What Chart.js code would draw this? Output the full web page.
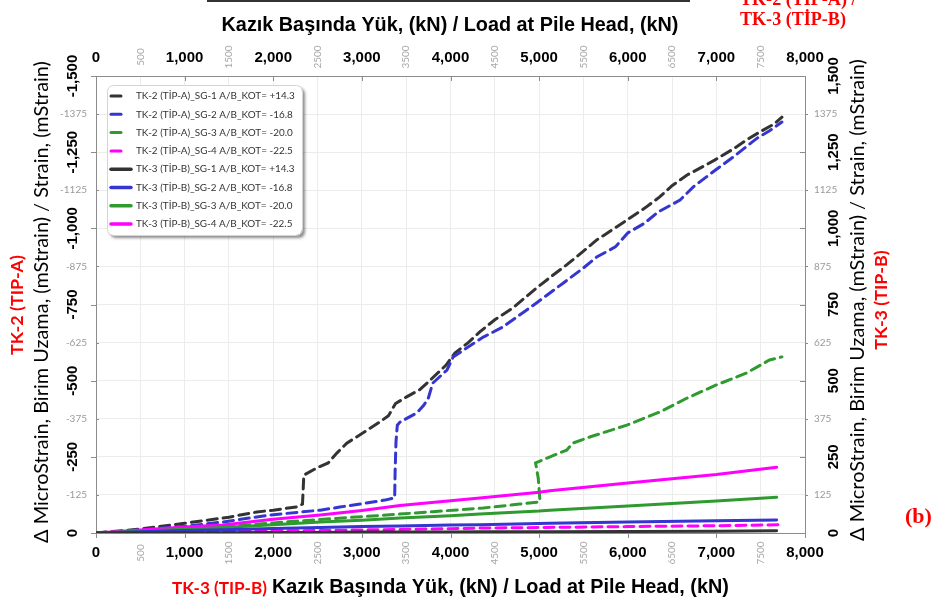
<!DOCTYPE html>
<html>
<head>
<meta charset="utf-8">
<script src="https://cdn.jsdelivr.net/npm/chart.js@4.4.1/dist/chart.umd.min.js"></script>
<style>
  html, body { margin: 0; padding: 0; background: #fff; }
  #wrap { width: 939px; height: 602px; }
</style>
</head>
<body>
<div id="wrap"><canvas id="strainChart"></canvas></div>
<script>
// Datos (carga en kN, deformación en microstrain)
const seriesLabels = [
  'TK-2 (TİP-A)_SG-1 A/B_KOT= +14.3',
  'TK-2 (TİP-A)_SG-2 A/B_KOT= -16.8',
  'TK-2 (TİP-A)_SG-3 A/B_KOT= -20.0',
  'TK-2 (TİP-A)_SG-4 A/B_KOT= -22.5',
  'TK-3 (TİP-B)_SG-1 A/B_KOT= +14.3',
  'TK-3 (TİP-B)_SG-2 A/B_KOT= -16.8',
  'TK-3 (TİP-B)_SG-3 A/B_KOT= -20.0',
  'TK-3 (TİP-B)_SG-4 A/B_KOT= -22.5'
];
const seriesColors = ['#333333', '#3535d0', '#2f9a2f', '#ff00ff'];

// TK-2 (eje superior / izquierdo)
const tk2Sg1Load = [0, 500, 1000, 1500, 1815, 2000, 2268, 2330, 2345, 2500, 2620, 2720, 2830, 3010, 3200, 3300, 3380, 3500, 3650, 3750, 3950, 4050, 4200, 4330, 4500, 4700, 4970, 5150, 5310, 5500, 5650, 5720, 6025, 6200, 6360, 6500, 6670, 6800, 6980, 7200, 7340, 7500, 7650, 7740];
const tk2Sg1Strain = [0, -13, -32, -52, -69, -75, -86, -95, -190, -215, -230, -263, -295, -328, -364, -385, -425, -446, -470, -496, -551, -591, -625, -660, -700, -738, -804, -845, -880, -925, -962, -975, -1034, -1068, -1103, -1140, -1175, -1195, -1224, -1262, -1290, -1318, -1342, -1365];
const tk2Sg2Load = [0, 500, 1000, 1430, 1963, 2530, 2750, 3000, 3260, 3370, 3375, 3385, 3400, 3430, 3620, 3700, 3750, 3800, 3960, 4030, 4370, 4590, 4970, 5270, 5500, 5650, 5860, 6000, 6190, 6340, 6590, 6740, 6960, 7190, 7460, 7600, 7740];
const tk2Sg2Strain = [0, -10, -22, -36, -59, -75, -85, -96, -108, -115, -200, -300, -354, -364, -394, -420, -443, -492, -535, -578, -643, -676, -755, -820, -870, -906, -939, -985, -1017, -1053, -1093, -1136, -1185, -1234, -1296, -1320, -1349];
const tk2Sg3Load = [0, 1000, 1500, 2000, 2500, 3280, 3800, 4370, 4780, 5000, 5010, 4990, 4960, 5090, 5310, 5380, 5570, 5990, 6360, 6670, 7000, 7340, 7600, 7740];
const tk2Sg3Strain = [0, -13, -22, -33, -44, -59, -70, -82, -95, -102, -105, -180, -230, -246, -272, -295, -315, -354, -397, -443, -486, -525, -568, -578];
const tk2Sg4Load = [0, 1000, 2000, 2530, 3000, 4000, 4330, 5000, 6000, 7000, 7760];
const tk2Sg4Strain = [0, -4, -7, -8, -10, -14, -16, -18, -21, -24, -27];

// TK-3 (eje inferior / derecho)
const tk3Load = [0, 1000, 1430, 2000, 2530, 3000, 3430, 4000, 4330, 5000, 5120, 6000, 7000, 7680];
const tk3Sg1Strain = [0, 1, 1, 2, 2, 3, 3, 3, 4, 4, 4, 5, 6, 7];
const tk3Sg2Strain = [0, 8, 11, 15, 18, 21, 23, 26, 27, 31, 32, 36, 40, 43];
const tk3Sg3Strain = [0, 12, 18, 27, 36, 42, 49, 57, 62, 72, 75, 89, 105, 117];
const tk3Sg4Strain = [0, 20, 26, 45, 59, 74, 90, 106, 115, 134, 139, 164, 192, 216];

// Ticks
const loadMajorTicks = [0, 1000, 2000, 3000, 4000, 5000, 6000, 7000, 8000];
const loadMinorTicks = [500, 1500, 2500, 3500, 4500, 5500, 6500, 7500];
const leftMajorTicks = [-1500, -1250, -1000, -750, -500, -250, 0];
const leftMinorTicks = [-1375, -1125, -875, -625, -375, -125];
const rightMajorTicks = [0, 250, 500, 750, 1000, 1250, 1500];
const rightMinorTicks = [125, 375, 625, 875, 1125, 1375];

function toPoints(xs, ys) {
  return xs.map((x, i) => ({ x: x, y: ys[i] }));
}

function makeSet(label, xs, ys, color, dashed) {
  return {
    label: label,
    data: toPoints(xs, ys),
    borderColor: color,
    backgroundColor: color,
    borderWidth: 3,
    borderDash: dashed ? [10, 6] : [],
    borderCapStyle: 'round',
    pointRadius: 0,
    tension: 0,
    xAxisID: dashed ? 'x2' : 'x',
    yAxisID: dashed ? 'yL' : 'yR'
  };
}

const datasets = [
  makeSet(seriesLabels[4], tk3Load, tk3Sg1Strain, seriesColors[0], false),
  makeSet(seriesLabels[5], tk3Load, tk3Sg2Strain, seriesColors[1], false),
  makeSet(seriesLabels[6], tk3Load, tk3Sg3Strain, seriesColors[2], false),
  makeSet(seriesLabels[7], tk3Load, tk3Sg4Strain, seriesColors[3], false),
  makeSet(seriesLabels[3], tk2Sg4Load, tk2Sg4Strain, seriesColors[3], true),
  makeSet(seriesLabels[2], tk2Sg3Load, tk2Sg3Strain, seriesColors[2], true),
  makeSet(seriesLabels[1], tk2Sg2Load, tk2Sg2Strain, seriesColors[1], true),
  makeSet(seriesLabels[0], tk2Sg1Load, tk2Sg1Strain, seriesColors[0], true)
];

const SANS = '"Liberation Sans", Arial, sans-serif';
const CAL = 'Lato, "Open Sans", sans-serif';
const SERIF = '"Liberation Serif", "Times New Roman", serif';
const AXIS_COLOR = '#8c8c8c';
const GRID_COLOR = '#ececec';

function fmt(v) {
  return v.toLocaleString('en-US');
}

// Ajustar el tamaño de letra a un ancho dado
function fitFont(ctx, text, weight, family, width) {
  ctx.font = weight + ' 20px ' + family;
  const w = ctx.measureText(text).width;
  return weight + ' ' + (20 * width / w).toFixed(2) + 'px ' + family;
}

function rotText(ctx, text, x, y, font, color) {
  ctx.save();
  ctx.translate(x, y);
  ctx.rotate(-Math.PI / 2);
  ctx.font = font;
  ctx.fillStyle = color;
  ctx.textAlign = 'center';
  ctx.textBaseline = 'middle';
  ctx.fillText(text, 0, 0);
  ctx.restore();
}

const decorPlugin = {
  id: 'decor',
  afterDraw(chart) {
    const ctx = chart.ctx;
    const xs = chart.scales.x;
    const yl = chart.scales.yL;
    const yr = chart.scales.yR;
    const area = chart.chartArea;

    ctx.save();
    // Marcas de ticks
    ctx.strokeStyle = AXIS_COLOR;
    ctx.lineWidth = 1;
    ctx.beginPath();
    loadMajorTicks.forEach(v => {
      const px = Math.round(xs.getPixelForValue(v)) + 0.5;
      ctx.moveTo(px, area.bottom); ctx.lineTo(px, area.bottom + 5);
      ctx.moveTo(px, area.top); ctx.lineTo(px, area.top + 5);
    });
    leftMajorTicks.forEach(v => {
      const py = Math.round(yl.getPixelForValue(v)) + 0.5;
      ctx.moveTo(area.left - 5, py); ctx.lineTo(area.left, py);
      ctx.moveTo(area.right - 5, py); ctx.lineTo(area.right, py);
    });
    leftMinorTicks.forEach(v => {
      const py = Math.round(yl.getPixelForValue(v)) + 0.5;
      ctx.moveTo(area.left, py); ctx.lineTo(area.left + 3, py);
      ctx.moveTo(area.right, py); ctx.lineTo(area.right + 3, py);
    });
    ctx.stroke();

    // Etiquetas del eje X (abajo y arriba)
    ctx.textAlign = 'center';
    ctx.textBaseline = 'middle';
    loadMajorTicks.forEach(v => {
      const px = xs.getPixelForValue(v);
      ctx.font = 'bold 15px ' + SANS;
      ctx.fillStyle = '#000';
      ctx.fillText(fmt(v), px, 553);
      ctx.fillText(fmt(v), px, 58);
    });
    loadMinorTicks.forEach(v => {
      const px = xs.getPixelForValue(v);
      rotText(ctx, String(v), px, 553, '10px ' + CAL, '#a8a8a8');
      rotText(ctx, String(v), px, 57, '10px ' + CAL, '#a8a8a8');
    });

    // Eje izquierdo (TK-2)
    leftMajorTicks.forEach(v => {
      rotText(ctx, fmt(v), 73, yl.getPixelForValue(v), 'bold 15px ' + SANS, '#000');
    });
    ctx.font = '10px ' + CAL;
    ctx.fillStyle = '#9a9a9a';
    ctx.textAlign = 'right';
    leftMinorTicks.forEach(v => {
      ctx.fillText(String(v), 87, yl.getPixelForValue(v));
    });

    // Eje derecho (TK-3)
    rightMajorTicks.forEach(v => {
      rotText(ctx, fmt(v), 834, yr.getPixelForValue(v), 'bold 15px ' + SANS, '#000');
    });
    ctx.font = '10px ' + CAL;
    ctx.fillStyle = '#9a9a9a';
    ctx.textAlign = 'left';
    rightMinorTicks.forEach(v => {
      ctx.fillText(String(v), 814, yr.getPixelForValue(v));
    });

    // Títulos de ejes
    const yTitle = 'Δ MicroStrain, Birim Uzama, (mStrain) / Strain, (mStrain)';
    const yFont = fitFont(ctx, yTitle, 'normal', CAL, 482);
    rotText(ctx, yTitle, 42, 302, yFont, '#000');
    rotText(ctx, yTitle, 858, 300, yFont, '#000');
    const redFont = fitFont(ctx, 'TK-2 (TIP-A)', 'bold', CAL, 100);
    rotText(ctx, 'TK-2 (TIP-A)', 17, 305, redFont, '#ff0000');
    rotText(ctx, 'TK-3 (TIP-B)', 881, 300, redFont, '#ff0000');

    const xTitle = 'Kazık Başında Yük, (kN) / Load at Pile Head, (kN)';
    ctx.font = fitFont(ctx, xTitle, 'bold', SANS, 457);
    ctx.fillStyle = '#000';
    ctx.textAlign = 'center';
    ctx.fillText(xTitle, 450, 26);
    ctx.textAlign = 'left';
    ctx.fillText(xTitle, 272, 588);
    ctx.font = fitFont(ctx, 'TK-3 (TIP-B)', 'bold', CAL, 95);
    ctx.fillStyle = '#ff0000';
    ctx.fillText('TK-3 (TIP-B)', 172, 588);

    // Texto rojo superior y (b)
    ctx.font = fitFont(ctx, 'TK-3 (TİP-B)', 'bold', SERIF, 106);
    ctx.textAlign = 'left';
    ctx.fillText('TK-2 (TİP-A) /', 740, 0);
    ctx.fillText('TK-3 (TİP-B)', 740, 20);
    ctx.font = 'bold 22px ' + SERIF;
    ctx.fillText('(b)', 905, 517);

    // Línea superior
    ctx.strokeStyle = '#333';
    ctx.lineWidth = 2;
    ctx.beginPath();
    ctx.moveTo(207, 1); ctx.lineTo(690, 1);
    ctx.stroke();

    // Leyenda
    const lx = 107, ly = 85, lw = 195, lh = 150;
    ctx.save();
    ctx.shadowColor = 'rgba(0,0,0,0.45)';
    ctx.shadowOffsetX = 3;
    ctx.shadowOffsetY = 3;
    ctx.shadowBlur = 3;
    ctx.beginPath();
    ctx.roundRect(lx, ly, lw, lh, 6);
    ctx.fillStyle = '#fff';
    ctx.fill();
    ctx.restore();
    ctx.strokeStyle = '#d4d4d4';
    ctx.lineWidth = 1;
    ctx.beginPath();
    ctx.roundRect(lx + 0.5, ly + 0.5, lw, lh, 6);
    ctx.stroke();

    const legendFont = fitFont(ctx, seriesLabels[0], 'normal', CAL, 159);
    ctx.font = legendFont;
    ctx.textBaseline = 'middle';
    seriesLabels.forEach((lab, i) => {
      const y = ly + 11 + i * 18.3;
      const dashed = i < 4;
      ctx.strokeStyle = seriesColors[i % 4];
      ctx.lineWidth = dashed ? 3 : 3.5;
      ctx.lineCap = 'round';
      ctx.beginPath();
      ctx.moveTo(lx + 4, y);
      ctx.lineTo(lx + (dashed ? 14 : 24), y);
      ctx.stroke();
      ctx.fillStyle = '#333';
      ctx.textAlign = 'left';
      ctx.fillText(lab, lx + 29, y);
    });
    ctx.restore();
  }
};

const ctx = document.getElementById('strainChart').getContext('2d');
const strainChart = new Chart(ctx, {
  type: 'line',
  data: { datasets: datasets },
  options: {
    responsive: true,
    maintainAspectRatio: false,
    animation: false,
    devicePixelRatio: 1,
    layout: { padding: 0 },
    plugins: {
      legend: { display: false },
      tooltip: { enabled: false }
    },
    scales: {
      x: {
        type: 'linear', position: 'bottom', min: 0, max: 8000,
        ticks: { stepSize: 500, display: false },
        grid: { color: GRID_COLOR, drawTicks: false },
        border: { color: AXIS_COLOR },
        afterFit: s => { s.height = 69; }
      },
      x2: {
        type: 'linear', position: 'top', min: 0, max: 8000,
        ticks: { stepSize: 500, display: false },
        grid: { display: false, drawTicks: false },
        border: { color: AXIS_COLOR },
        afterFit: s => { s.height = 76; }
      },
      yL: {
        type: 'linear', position: 'left', min: -1500, max: 0, reverse: true,
        ticks: { stepSize: 125, display: false },
        grid: { color: GRID_COLOR, drawTicks: false },
        border: { color: AXIS_COLOR },
        afterFit: s => { s.width = 96; }
      },
      yR: {
        type: 'linear', position: 'right', min: 0, max: 1500,
        ticks: { stepSize: 125, display: false },
        grid: { display: false, drawTicks: false },
        border: { color: AXIS_COLOR },
        afterFit: s => { s.width = 134; }
      }
    }
  },
  plugins: [decorPlugin]
});
</script>
</body>
</html>
